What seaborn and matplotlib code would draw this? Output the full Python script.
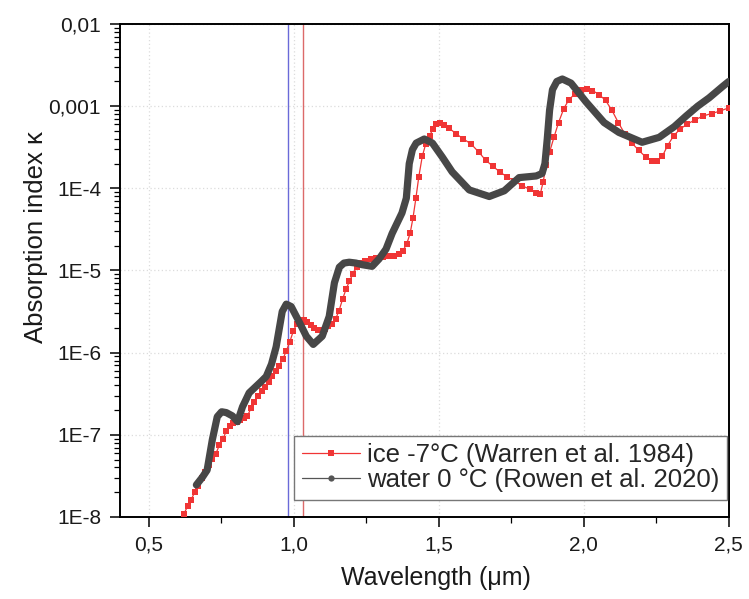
import numpy as np
import pandas as pd
import matplotlib
matplotlib.use("Agg")
import matplotlib.pyplot as plt
import seaborn as sns
from matplotlib.lines import Line2D
from matplotlib.ticker import FixedLocator, FuncFormatter, LogLocator, NullFormatter

# ice -7 C (Warren et al. 1984): wavelength (um), log10 of absorption index
ice_wl = [0.621, 0.634, 0.646, 0.658, 0.670, 0.682, 0.694, 0.706, 0.719, 0.731,
          0.743, 0.755, 0.767, 0.779, 0.791, 0.804, 0.816, 0.828, 0.840, 0.852,
          0.864, 0.876, 0.889, 0.901, 0.913, 0.925, 0.937, 0.949, 0.962, 0.974,
          0.986, 0.998, 1.010, 1.022, 1.034, 1.047, 1.059, 1.071, 1.083, 1.095,
          1.107, 1.119, 1.132, 1.144, 1.156, 1.168, 1.180, 1.192, 1.204, 1.217,
          1.231, 1.247, 1.265, 1.285, 1.306, 1.326, 1.346, 1.362, 1.376, 1.389,
          1.401, 1.411, 1.421, 1.431, 1.443, 1.455, 1.468, 1.480, 1.492, 1.504,
          1.518, 1.536, 1.561, 1.585, 1.611, 1.638, 1.662, 1.686, 1.710, 1.735,
          1.761, 1.787, 1.814, 1.834, 1.850, 1.860, 1.870, 1.882, 1.897, 1.913,
          1.931, 1.949, 1.970, 1.990, 2.010, 2.030, 2.053, 2.075, 2.097, 2.119,
          2.142, 2.166, 2.190, 2.214, 2.235, 2.253, 2.271, 2.289, 2.310, 2.332,
          2.356, 2.382, 2.411, 2.441, 2.470, 2.500]
ice_log_k = [-7.96, -7.87, -7.79, -7.70, -7.62, -7.53, -7.45, -7.37, -7.30, -7.23,
             -7.13, -7.05, -6.96, -6.89, -6.86, -6.84, -6.82, -6.80, -6.77, -6.68,
             -6.60, -6.53, -6.47, -6.42, -6.36, -6.29, -6.22, -6.16, -6.08, -5.98,
             -5.87, -5.74, -5.65, -5.60, -5.60, -5.63, -5.67, -5.70, -5.72, -5.72,
             -5.71, -5.68, -5.65, -5.59, -5.49, -5.35, -5.23, -5.13, -5.04, -4.96,
             -4.91, -4.88, -4.86, -4.85, -4.84, -4.83, -4.82, -4.80, -4.76, -4.68,
             -4.55, -4.36, -4.12, -3.86, -3.61, -3.46, -3.36, -3.28, -3.22, -3.21,
             -3.23, -3.27, -3.34, -3.40, -3.46, -3.56, -3.66, -3.73, -3.80, -3.86,
             -3.91, -3.97, -4.01, -4.06, -4.07, -3.92, -3.72, -3.56, -3.38, -3.20,
             -3.03, -2.92, -2.85, -2.80, -2.79, -2.81, -2.86, -2.93, -3.05, -3.20,
             -3.34, -3.45, -3.54, -3.62, -3.67, -3.67, -3.61, -3.48, -3.36, -3.28,
             -3.22, -3.17, -3.12, -3.09, -3.06, -3.02]

# water 0 C (Rowen et al. 2020)
water_wl = [0.664, 0.684, 0.701, 0.719, 0.736, 0.751, 0.767, 0.788, 0.806, 0.823,
            0.846, 0.888, 0.905, 0.923, 0.939, 0.960, 0.974, 0.991, 1.019, 1.043,
            1.067, 1.098, 1.122, 1.140, 1.157, 1.173, 1.191, 1.214, 1.236, 1.270,
            1.294, 1.318, 1.339, 1.373, 1.388, 1.398, 1.409, 1.422, 1.450, 1.478,
            1.512, 1.546, 1.605, 1.674, 1.726, 1.777, 1.836, 1.856, 1.866, 1.874,
            1.882, 1.892, 1.907, 1.926, 1.956, 2.008, 2.070, 2.121, 2.201, 2.260,
            2.312, 2.353, 2.393, 2.432, 2.479, 2.500]
water_log_k = [-7.61, -7.52, -7.43, -7.06, -6.78, -6.72, -6.73, -6.77, -6.84, -6.66,
               -6.49, -6.35, -6.29, -6.14, -5.93, -5.50, -5.41, -5.44, -5.63, -5.80,
               -5.90, -5.80, -5.56, -5.15, -4.96, -4.91, -4.90, -4.91, -4.93, -4.95,
               -4.86, -4.74, -4.55, -4.30, -4.12, -3.70, -3.53, -3.45, -3.40, -3.45,
               -3.62, -3.80, -4.02, -4.10, -4.03, -3.87, -3.85, -3.82, -3.70, -3.40,
               -3.05, -2.80, -2.70, -2.67, -2.72, -2.95, -3.20, -3.32, -3.44, -3.38,
               -3.25, -3.12, -3.00, -2.90, -2.76, -2.70]

band_lines = [0.98, 1.03]
band_colors = ["#6a6ad8", "#dc6a6a"]

ice_label = "ice -7\u00b0C (Warren et al. 1984)"
water_label = "water 0 \u00b0C (Rowen et al. 2020)"

x_ticks = [0.5, 1.0, 1.5, 2.0, 2.5]
y_ticks = [1e-8, 1e-7, 1e-6, 1e-5, 1e-4, 1e-3, 1e-2]
y_tick_labels = ["1E-8", "1E-7", "1E-6", "1E-5", "1E-4", "0,001", "0,01"]

ice = pd.DataFrame({"wl": ice_wl, "k": 10 ** np.array(ice_log_k)})
water = pd.DataFrame({"wl": water_wl, "k": 10 ** np.array(water_log_k)})

sns.set_theme(style="white")
plt.rcParams["font.family"] = ["Liberation Sans", "DejaVu Sans"]

fig = plt.figure(figsize=(7.49, 5.99), dpi=100)
ax = fig.add_axes([0.160, 0.137, 0.813, 0.823])
ax.set_yscale("log")

for xv, c in zip(band_lines, band_colors):
    ax.axvline(xv, color=c, lw=1.0, zorder=1)

sns.lineplot(data=ice, x="wl", y="k", ax=ax, color="#f03535", lw=0.9,
             marker="s", markersize=4.2, markeredgewidth=0, sort=False, zorder=3)
sns.lineplot(data=water, x="wl", y="k", ax=ax, color="#474747", lw=5.2,
             sort=False, zorder=4, solid_capstyle="round", solid_joinstyle="round")

ax.set_xlim(0.4, 2.5)
ax.set_ylim(1e-8, 1e-2)

ax.xaxis.set_major_locator(FixedLocator(x_ticks))
ax.xaxis.set_minor_locator(FixedLocator([0.75, 1.25, 1.75, 2.25]))
ax.xaxis.set_major_formatter(FuncFormatter(lambda v, p: f"{v:.1f}".replace(".", ",")))
ax.yaxis.set_major_locator(FixedLocator(y_ticks))
ax.set_yticklabels(y_tick_labels)
ax.yaxis.set_minor_locator(LogLocator(base=10, subs=np.arange(2, 10), numticks=20))
ax.yaxis.set_minor_formatter(NullFormatter())

ax.grid(True, which="major", color="#dcdcdc", lw=0.9, ls=(0, (1, 2)))
ax.tick_params(axis="both", which="major", direction="out", length=7, width=1.1,
               colors="black", labelsize=15, left=True, bottom=True, pad=6.5)
ax.tick_params(axis="both", which="minor", direction="out", length=4, width=0.9,
               colors="black", left=True, bottom=True)
for s in ax.spines.values():
    s.set_color("black")
    s.set_linewidth(1.4)

ax.set_xlabel("Wavelength (\u03bcm)", fontsize=18, color="#1a1a1a")
ax.set_ylabel("Absorption index \u03ba", fontsize=18.5, color="#1a1a1a")
ax.xaxis.set_label_coords(0.519, -0.100)
ax.yaxis.set_label_coords(-0.118, 0.568)
for t in ax.get_xticklabels() + ax.get_yticklabels():
    t.set_color("#1a1a1a")

handles = [
    Line2D([], [], color="#f03535", lw=0.9, marker="s", markersize=4.5, markeredgewidth=0),
    Line2D([], [], color="#555555", lw=0.9, marker="o", markersize=4.5, markeredgewidth=0),
]
leg = ax.legend(handles, [ice_label, water_label], loc="lower right",
                bbox_to_anchor=(0.9967, 0.0345), borderaxespad=0, fontsize=18.5,
                frameon=True, fancybox=False, edgecolor="#777777", framealpha=1,
                handlelength=2.26, handletextpad=0.27, borderpad=0.3,
                labelspacing=0.03)
leg.get_frame().set_linewidth(1.0)

fig.savefig("out.png", dpi=100, facecolor="white")
